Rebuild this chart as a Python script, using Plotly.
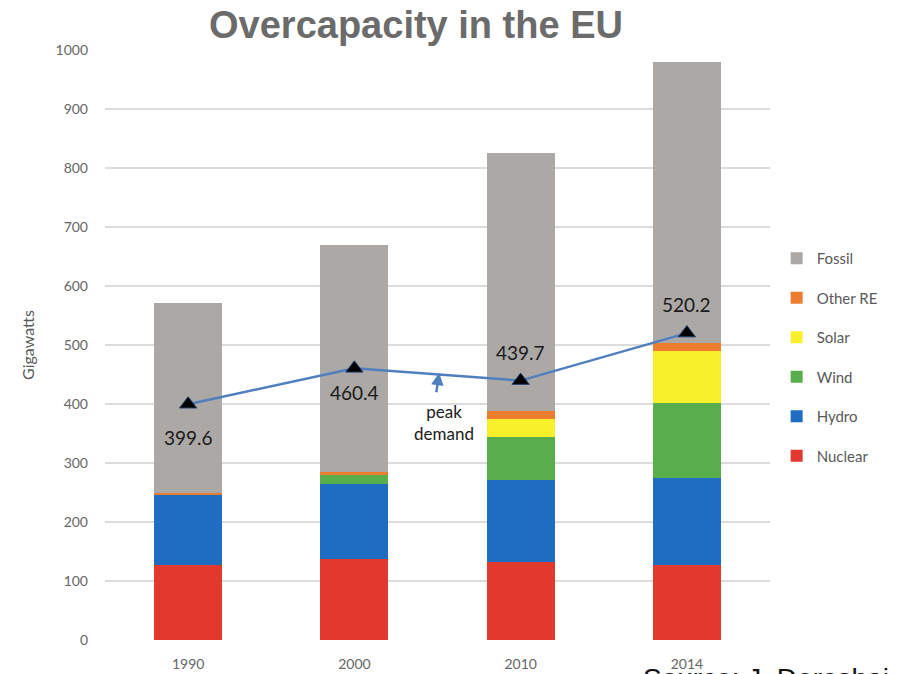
import plotly.graph_objects as go

years = ["1990", "2000", "2010", "2014"]
nuclear = [127, 137, 132, 127]
hydro = [120, 127, 139, 148]
wind = [0, 16, 73, 126]
solar = [0, 0, 31, 88]
other_re = [2, 5, 13, 14]
fossil = [323, 385, 437, 477]
peak_demand = [399.6, 460.4, 439.7, 520.2]
peak_labels = ["399.6", "460.4", "439.7", "520.2"]

series = [
    ("Nuclear", nuclear, "#e2392f"),
    ("Hydro", hydro, "#1f6dc2"),
    ("Wind", wind, "#58ad4d"),
    ("Solar", solar, "#f9f02c"),
    ("Other RE", other_re, "#ec7d2e"),
    ("Fossil", fossil, "#aba8a5"),
]

fig = go.Figure()
for i, (name, vals, col) in enumerate(series):
    fig.add_trace(go.Bar(
        x=years, y=vals, name=name, marker=dict(color=col, line=dict(width=0)),
        legendgroup=name, legendrank=len(series) - i,
    ))

fig.add_trace(go.Scatter(
    x=years, y=peak_demand, mode="lines+markers", showlegend=False,
    line=dict(color="#4f7fbf", width=2.5),
    marker=dict(symbol="triangle-up", size=15, color="black",
                line=dict(color="#1f3f6f", width=1)),
))

shifts = [-33, -24, 28, 29]
for i, (y, t, s) in enumerate(zip(peak_demand, peak_labels, shifts)):
    fig.add_annotation(x=i, y=y, text=t, showarrow=False, yshift=s,
                       font=dict(family="Lato, Open Sans, sans-serif", size=19, color="#1a1a1a"))

fig.add_annotation(x=1.51, y=453, ax=-3, ay=21, axref="pixel", ayref="pixel",
                   text="", showarrow=True, arrowhead=2, arrowsize=1, arrowwidth=2.5,
                   arrowcolor="#4f7fbf")
fig.add_annotation(x=1.54, y=408, text="peak<br>demand", showarrow=False, yanchor="top",
                   font=dict(family="Lato, Open Sans, sans-serif", size=17, color="#1a1a1a"))

fig.add_annotation(xref="paper", yref="paper", x=(641 - 105) / 665, y=-(661 - 640) / 590,
                   xanchor="left", yanchor="top", showarrow=False,
                   text="Source: J. Doroshai", font=dict(family="Liberation Sans, Arial", size=28, color="#111"))

fig.update_layout(
    width=898, height=674,
    margin=dict(l=105, r=128, t=50, b=34, autoexpand=False),
    paper_bgcolor="white", plot_bgcolor="white",
    barmode="stack", bargap=0.59,
    title=dict(text="<b>Overcapacity in the EU</b>", x=416 / 898, xanchor="center",
               y=1 - 25 / 674, yanchor="middle", yref="container",
               font=dict(family="Liberation Sans, Arial", size=38, color="#6b6b6b")),
    legend=dict(x=1.01, y=(640 - 242) / 590, xanchor="left", yanchor="top",
                traceorder="grouped", tracegroupgap=17,
                font=dict(family="Lato, sans-serif", size=15, color="#595959"),
                itemwidth=30),
    showlegend=True,
)
fig.update_yaxes(range=[0, 1000], dtick=100, showgrid=True, gridcolor="#dcdcdc", gridwidth=2,
                 zeroline=False, showline=False, ticks="", ticklabelstandoff=16, automargin=False,
                 tickfont=dict(family="Lato, sans-serif", size=14, color="#666666"),
                 title=dict(text="Gigawatts", standoff=16,
                            font=dict(family="Lato, sans-serif", size=16, color="#595959")))
fig.update_xaxes(type="category", range=[-0.5, 3.5], showgrid=False, showline=False, ticks="",
                 ticklabelstandoff=14, automargin=False,
                 tickfont=dict(family="Lato, sans-serif", size=14, color="#666666"))

fig.write_html("out.html")
